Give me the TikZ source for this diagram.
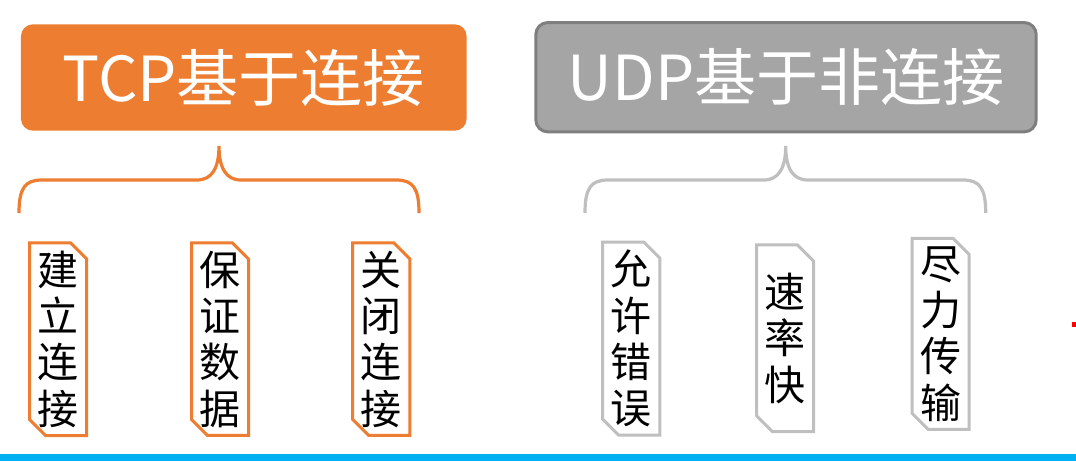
\documentclass[tikz,border=0pt]{standalone}
\usepackage{fontspec}
\newfontfamily\cjk{Noto Sans CJK SC}
\usetikzlibrary{shapes.misc}
\definecolor{tcporange}{HTML}{ED7D31}
\definecolor{udpgray}{HTML}{A5A5A5}
\definecolor{udpborder}{HTML}{7F7F7F}
\definecolor{lightgray}{HTML}{BFBFBF}
\definecolor{barblue}{HTML}{00B0F0}
\tikzset{
  titlebox/.style={rounded corners=12pt, inner sep=0pt, text=white,
    font=\cjk\fontsize{62}{68}\selectfont},
  itembox/.style={chamfered rectangle, chamfered rectangle corners={north east,south west},
    chamfered rectangle xsep=8pt, chamfered rectangle ysep=8pt,
    line width=3pt, fill=white, inner sep=0pt, align=center,
    font=\cjk\fontsize{41}{46.3}\selectfont, text=black},
  orangeitem/.style={itembox, draw=tcporange},
  grayitem/.style={itembox, draw=lightgray},
  bracepath/.style={line width=3.2pt},
}
\begin{document}
\begin{tikzpicture}[x=1pt,y=-1pt]
\useasboundingbox (0,0) rectangle (1076,461);
% title boxes
\node[titlebox, fill=tcporange, minimum width=445.7pt, minimum height=106.4pt] (tcp) at (243.8,77.5) {TCP基于连接};
\node[titlebox, fill=udpgray, draw=udpborder, line width=3pt, minimum width=500.4pt, minimum height=109.3pt] (udp) at (786,77.2) {UDP基于非连接};
% braces
\coordinate (tcptip) at (219,146);
\coordinate (udptip) at (785.7,146);
\draw[bracepath, draw=tcporange]
  (19,213) .. controls (19,188) and (25,180) .. (42,180) -- (197,180)
  .. controls (212,180) and (219,168) .. (tcptip)
  .. controls (219,168) and (226,180) .. (241,180) -- (396,180)
  .. controls (413,180) and (419,188) .. (419,213);
\draw[bracepath, draw=lightgray]
  (585,213) .. controls (585,188) and (591,180) .. (608,180) -- (763.7,180)
  .. controls (778.7,180) and (785.7,168) .. (udptip)
  .. controls (785.7,168) and (792.7,180) .. (807.7,180) -- (962.7,180)
  .. controls (979.7,180) and (985.7,188) .. (985.7,213);
% items
\node[orangeitem, minimum width=56pt, minimum height=188.3pt] (i1) at (58,339.2) {建\\立\\连\\接};
\node[orangeitem, minimum width=56.6pt, minimum height=188.3pt] (i2) at (220,339.2) {保\\证\\数\\据};
\node[orangeitem, minimum width=57.3pt, minimum height=188.3pt] (i3) at (381.3,339.2) {关\\闭\\连\\接};
\node[grayitem, minimum width=57.3pt, minimum height=189.3pt] (i4) at (631.3,338.7) {允\\许\\错\\误};
\node[grayitem, minimum width=56.6pt, minimum height=186.7pt] (i5) at (785,338.3) {速\\率\\快};
\node[grayitem, minimum width=55.6pt, minimum height=189pt] (i6) at (940.5,333.8) {尽\\力\\传\\输};
% bottom bar
\fill[barblue] (0,454) rectangle (1076,461);
% small red mark
\fill[red] (1072,321.7) rectangle (1076,326.7);
\end{tikzpicture}
\end{document}
